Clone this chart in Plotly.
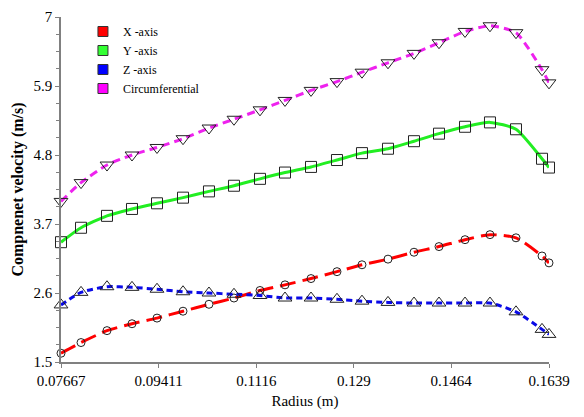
import plotly.graph_objects as go

# Radial stations (m)
radius = [0.07667, 0.08025, 0.08489, 0.08936, 0.09383, 0.09848, 0.10312,
          0.10759, 0.11224, 0.11671, 0.12136, 0.12600, 0.13047, 0.13512,
          0.13977, 0.14424, 0.14889, 0.15335, 0.15800, 0.16265, 0.1639]

# Velocity components (m/s)
vel_x = [1.64, 1.81, 2.00, 2.11, 2.20, 2.31, 2.42, 2.52, 2.64, 2.73, 2.83,
         2.94, 3.05, 3.14, 3.25, 3.34, 3.45, 3.53, 3.48, 3.19, 3.08]
vel_y = [3.41, 3.64, 3.83, 3.94, 4.03, 4.12, 4.22, 4.31, 4.42, 4.52, 4.61,
         4.72, 4.83, 4.90, 5.02, 5.14, 5.25, 5.32, 5.21, 4.74, 4.60]
vel_z = [2.41, 2.61, 2.70, 2.69, 2.66, 2.62, 2.60, 2.58, 2.56, 2.52, 2.52,
         2.50, 2.47, 2.45, 2.44, 2.44, 2.44, 2.44, 2.30, 2.02, 1.94]
vel_c = [4.06, 4.36, 4.64, 4.80, 4.92, 5.06, 5.23, 5.37, 5.52, 5.67, 5.83,
         5.97, 6.12, 6.27, 6.42, 6.59, 6.77, 6.86, 6.75, 6.16, 5.95]

x_ticks = [0.07667, 0.09411, 0.1116, 0.129, 0.1464, 0.1639]
x_tick_text = ["0.07667", "0.09411", "0.1116", "0.129", "0.1464", "0.1639"]
y_ticks = [1.5, 2.6, 3.7, 4.8, 5.9, 7]
y_tick_text = ["1.5", "2.6", "3.7", "4.8", "5.9", "7"]

series_names = ["X -axis", "Y -axis", "Z -axis", "Circumferential"]
series_colors = ["#ff0000", "#22ee22", "#0a0ae6", "#ee22ee"]
swatch_colors = ["#ff0000", "#33ff33", "#0000ff", "#ff00ff"]

FONT = "Liberation Serif"

fig = go.Figure()

styles = [
    (vel_x, "16px,7px", "circle-open", 8),
    (vel_y, "solid", "square-open", 11),
    (vel_z, "6px,4px", "triangle-up-open", 12),
    (vel_c, "8px,5px", "triangle-down-open", 12),
]

for (vals, dash, sym, msize), color in zip(styles, series_colors):
    fig.add_trace(go.Scatter(
        x=radius, y=vals, mode="lines+markers",
        line=dict(color=color, width=3, dash=dash, shape="spline", smoothing=0.6),
        marker=dict(symbol=sym, size=msize, color="#222222",
                    line=dict(width=1, color="#222222")),
        cliponaxis=False, showlegend=False,
    ))

# Legend entries drawn as filled squares
for name, color in zip(series_names, swatch_colors):
    fig.add_trace(go.Scatter(
        x=[None], y=[None], mode="markers", name=name,
        marker=dict(symbol="square", size=10, color=color,
                    line=dict(width=1, color="#333333")),
    ))

fig.update_layout(
    width=584, height=417,
    margin=dict(l=61, r=35, t=9, b=55),
    paper_bgcolor="white", plot_bgcolor="white",
    font=dict(family=FONT, size=15, color="black"),
    legend=dict(x=0.045, y=1.0, xanchor="left", yanchor="top",
                bgcolor="rgba(0,0,0,0)", font=dict(family=FONT, size=12),
                tracegroupgap=0, itemwidth=30),
    xaxis=dict(
        range=[0.07667, 0.1639], tickvals=x_ticks, ticktext=x_tick_text,
        showgrid=False, zeroline=False, showline=True, linecolor="#808080",
        linewidth=1.5, ticks="outside", ticklen=4, tickcolor="#808080",
        tickfont=dict(family=FONT, size=15),
        title=dict(text="Radius (m)", font=dict(family=FONT, size=15), standoff=8),
    ),
    yaxis=dict(
        range=[1.5, 7], tickvals=y_ticks, ticktext=y_tick_text,
        showgrid=False, zeroline=False, showline=True, linecolor="#808080",
        linewidth=1.5, ticks="outside", ticklen=4, tickcolor="#808080",
        tickfont=dict(family=FONT, size=15),
        minor=dict(ticks="outside", tick0=1.5, dtick=0.275, ticklen=3,
                   tickcolor="#808080"),
        title=dict(text="<b>Compnenet velocity (m/s)</b>",
                   font=dict(family=FONT, size=16), standoff=6),
    ),
)

fig.write_html("out.html")
